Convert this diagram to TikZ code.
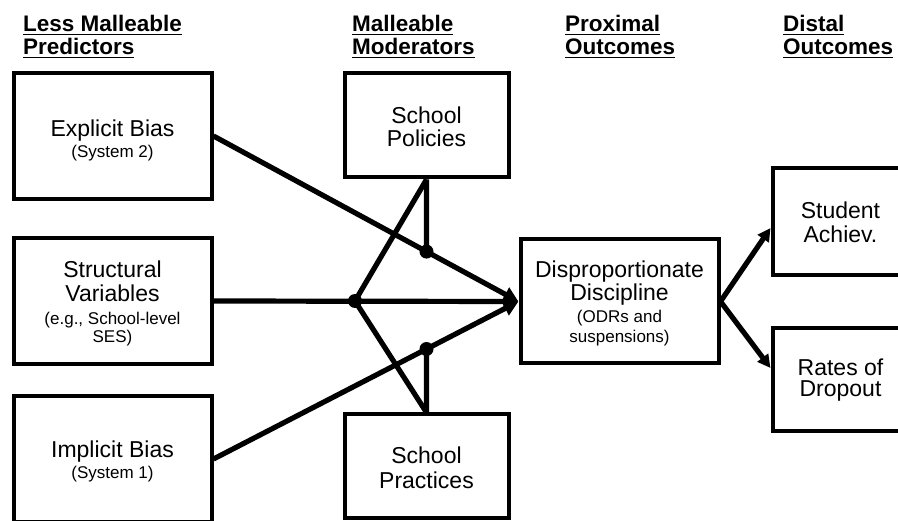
\documentclass[tikz,border=0pt]{standalone}
\usepackage{fontspec}
\setmainfont{Liberation Sans}
\usetikzlibrary{arrows.meta,intersections,calc}
\newcommand\hul[1]{\setbox0\hbox{#1}\rlap{\rule[-3.5pt]{\wd0}{1.8pt}}\box0}
\newcommand\smf{\fontsize{17}{18}\selectfont}
\begin{document}
\begin{tikzpicture}[x=1pt,y=-1pt,
  box/.style={draw, line width=4pt, inner sep=0pt},
  txt/.style={align=center, inner sep=0pt, font=\fontsize{23}{24}\selectfont},
  head/.style={anchor=base west, inner sep=0pt, font=\bfseries\fontsize{22.5}{23}\selectfont},
  conn/.style={line width=5.2pt},
  tip/.style={-{Triangle[length=15pt,width=15pt]}},
  tipb/.style={-{Triangle[length=13pt,width=13pt]}},
  dot/.style={fill=black}]
\useasboundingbox (0,0) rectangle (898,521);
\clip (0,0) rectangle (898,521);
% headings
\node[head] (h1a) at (23,32) {\hul{Less Malleable}};
\node[head] (h1b) at (23,55) {\hul{Predictors}};
\node[head] (h2a) at (352,32) {\hul{Malleable}};
\node[head] (h2b) at (352,55) {\hul{Moderators}};
\node[head] (h3a) at (565,32) {\hul{Proximal}};
\node[head] (h3b) at (565,55) {\hul{Outcomes}};
\node[head] (h4a) at (783,32) {\hul{Distal}};
\node[head] (h4b) at (783,55) {\hul{Outcomes}};
% boxes
\node[box, minimum width=198pt, minimum height=126pt] (eb) at (112.5,136) {};
\node[box, minimum width=198pt, minimum height=126pt] (sv) at (112.5,301) {};
\node[box, minimum width=198pt, minimum height=126pt] (ib) at (112.5,459) {};
\node[box, minimum width=164pt, minimum height=104pt] (pol) at (426.5,125.5) {};
\node[box, minimum width=164pt, minimum height=104pt] (prac) at (426.5,466.5) {};
\node[box, minimum width=198pt, minimum height=124pt] (dd) at (619.5,301.5) {};
\node[box, minimum width=136pt, minimum height=107pt] (sa) at (840.5,222) {};
\node[box, minimum width=136pt, minimum height=103pt] (rd) at (840.5,380) {};
% texts
\node[txt] (ebt) at ([yshift=-4pt]eb.center) {Explicit Bias\\[-3pt]\smf (System 2)};
\node[txt] (svt) at ([yshift=-2pt]sv.center) {Structural\\Variables\\[-1pt]\smf (e.g., School-level\\[-6pt]\smf SES)};
\node[txt] (ibt) at ([yshift=-2pt]ib.center) {Implicit Bias\\[-3pt]\smf (System 1)};
\node[txt] (polt) at ([yshift=-1pt]pol.center) {School\\[-1pt]Policies};
\node[txt] (pract) at ([yshift=-1pt]prac.center) {School\\[1pt]Practices};
\node[txt] (ddt) at ([yshift=-1.5pt]dd.center) {Disproportionate\\[-1pt]Discipline\\[-2pt]\smf (ODRs and\\[-4pt]\smf suspensions)};
\node[txt] (sat) at (sa.center) {Student\\Achiev.};
\node[txt] (rdt) at (rd.center) {Rates of\\[-3pt]Dropout};
% connectors
\draw[conn, tip, name path=pe] (eb.east) -- (dd.west);
\draw[conn, tip] (sv.east) -- (dd.west);
\draw[conn, tip, name path=pi] (ib.east) -- (dd.west);
\coordinate (j) at (355,301);
\draw[conn] (j) -- (pol.south);
\draw[conn] (j) -- (prac.north);
\path[name path=pv] (pol.south) -- ++(0,200);
\path[name path=qv] (prac.north) -- ++(0,-200);
\path[name intersections={of=pe and pv, by=x1}];
\path[name intersections={of=pi and qv, by=x2}];
\draw[conn] (pol.south) -- (x1);
\draw[conn] (prac.north) -- (x2);
\fill[dot] (j) circle[radius=7pt];
\fill[dot] (x1) circle[radius=7pt];
\fill[dot] (x2) circle[radius=7pt];
\draw[conn, tipb] (dd.east) -- ([yshift=-6pt]sa.west);
\draw[conn, tipb] (dd.east) -- ([yshift=12pt]rd.west);
\end{tikzpicture}
\end{document}
